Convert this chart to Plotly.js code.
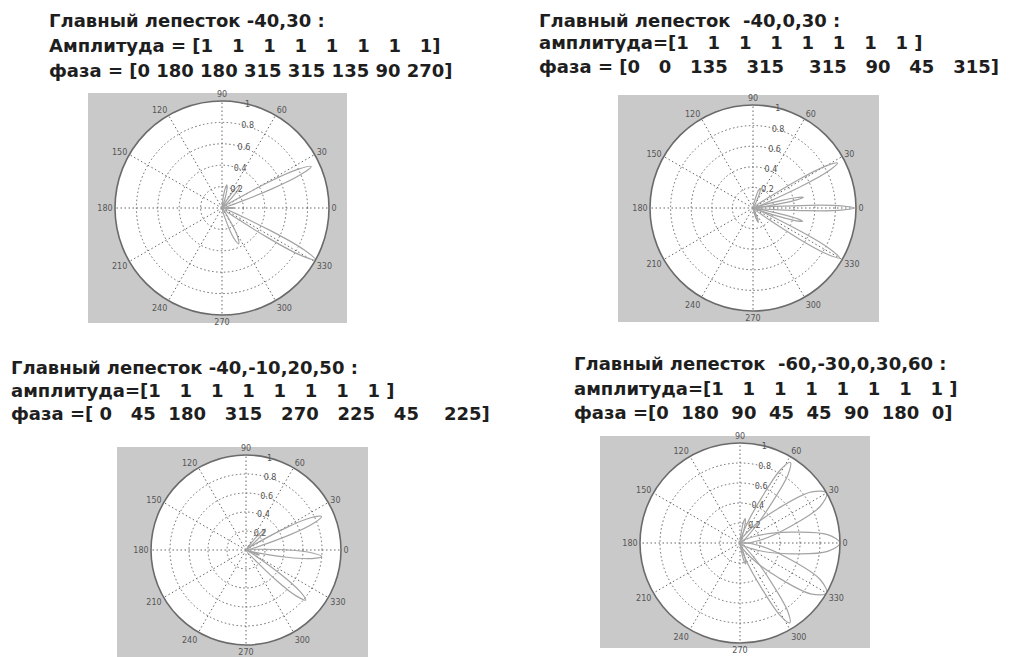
<!DOCTYPE html>
<html><head><meta charset="utf-8">
<script src="https://cdn.plot.ly/plotly-3.0.1.min.js"></script>
<style>html,body{margin:0;padding:0;background:#fff;}#chart{width:1024px;height:657px;}</style>
</head><body><div id="chart"></div>
<script>
// Titles (3 lines per panel)
const titles1 = ["Главный лепесток -40,30 :", "Амплитуда = [1   1   1   1   1   1   1   1]", "фаза = [0 180 180 315 315 135 90 270]"];
const titles2 = ["Главный лепесток  -40,0,30 :", "амплитуда=[1   1   1   1   1   1   1   1 ]", "фаза = [0   0   135   315    315   90   45   315]"];
const titles3 = ["Главный лепесток -40,-10,20,50 :", "амплитуда=[1   1   1   1   1   1   1   1 ]", "фаза =[ 0   45  180   315   270   225   45    225]"];
const titles4 = ["Главный лепесток  -60,-30,0,30,60 :", "амплитуда=[1   1   1   1   1   1   1   1 ]", "фаза =[0  180  90  45  45  90  180  0]"];

// Angular tick labels / radial ticks
const angTicks = [0,30,60,90,120,150,180,210,240,270,300,330];
const radTicks = [0.2,0.4,0.6,0.8,1];

// Pattern values (angle deg, normalized amplitude); null separates lobes
const theta1 = [-77,-71,-68,-65,-62,-59,-53,null,-37,-33,-31,-29,-27,-25,-21,null,-8,-4,-2,0,2,4,8,null,16,21,23,25,27,29,34,null,43,47,49.5,52,54.5,57,61,null,69,73,75.5,78,80.5,83,87];
const r1     = [0,0.2,0.32,0.37,0.32,0.2,0,null,0,0.5,0.86,1,0.86,0.5,0,null,0,0.07,0.1,0.12,0.1,0.07,0,null,0,0.5,0.8,0.92,0.8,0.5,0,null,0,0.15,0.24,0.27,0.24,0.15,0,null,0,0.12,0.19,0.22,0.19,0.12,0];

const theta2 = [-78,-74.4,-72.2,-70,-67.8,-65.6,-62,null,-37,-33.9,-31.9,-30,-28.1,-26.1,-23,null,-20,-17.8,-16.4,-15,-13.6,-12.2,-10,null,-5,-2.8,-1.4,0,1.4,2.8,5,null,7,9.2,10.6,12,13.4,14.8,17,null,21,24.1,26.1,28,29.9,31.9,35,null,60,64.5,67.3,70,72.7,75.5,80];
const r2     = [0,0.08,0.13,0.15,0.13,0.08,0,null,0,0.53,0.85,0.97,0.85,0.53,0,null,0,0.28,0.44,0.5,0.44,0.28,0,null,0,0.54,0.86,0.98,0.86,0.54,0,null,0,0.28,0.44,0.5,0.44,0.28,0,null,0,0.51,0.82,0.93,0.82,0.51,0,null,0,0.11,0.18,0.2,0.18,0.11,0];

const theta3 = [-49,-45,-42.4,-40,-37.6,-35,-31,null,-26,-23.3,-21.6,-20,-18.4,-16.7,-14,null,-14,-10,-7.4,-5,-2.6,0,4,null,15,19,21.6,24,26.4,29,33,null,39,42.6,44.8,47,49.2,51.4,55];
const r3     = [0,0.45,0.72,0.82,0.72,0.45,0,null,0,0.08,0.13,0.15,0.13,0.08,0,null,0,0.44,0.7,0.8,0.7,0.44,0,null,0,0.48,0.77,0.87,0.77,0.48,0,null,0,0.17,0.26,0.3,0.26,0.17,0];

const theta4 = [-83,-79.4,-77.2,-75,-72.8,-70.6,-67,null,-76,-70,-64.5,-61,-58,-55,-51.5,-46,-40,null,-62,-52,-42,-35.5,-30,-24.5,-18,-8,2,null,-32,-22,-12,-5.5,0,5.5,12,22,32,null,-2,8,18,24.5,30,35.5,42,52,62,null,40,46,51.5,55,58,61,64.5,70,76,null,70,73.6,75.8,78,80.2,82.4,86];
const r4     = [0,0.12,0.19,0.22,0.19,0.12,0,null,0,0.2,0.5,0.83,0.94,0.83,0.5,0.2,0,null,0,0.2,0.52,0.88,1,0.88,0.52,0.2,0,null,0,0.2,0.52,0.88,1,0.88,0.52,0.2,0,null,0,0.2,0.52,0.88,1,0.88,0.52,0.2,0,null,0,0.2,0.5,0.84,0.95,0.84,0.5,0.2,0,null,0,0.14,0.22,0.25,0.22,0.14,0];

const W = 1024, H = 657;
// panel geometry in pixels: polar center, radius, gray box, title origin
const panels = [
  {th: theta1, r: r1, titles: titles1, cx: 222, cy: 208, R: 107, box: [88, 93, 347, 323], tx: 47, ty: [20, 45, 71]},
  {th: theta2, r: r2, titles: titles2, cx: 753, cy: 208, R: 103, box: [618, 95, 879, 322], tx: 537, ty: [20, 43, 67]},
  {th: theta3, r: r3, titles: titles3, cx: 246, cy: 550, R: 95, box: [117, 447, 368, 657], tx: 9, ty: [367, 390, 413]},
  {th: theta4, r: r4, titles: titles4, cx: 740, cy: 543, R: 100, box: [600, 436, 870, 648], tx: 572, ty: [363, 388, 412]}
];

const nb = s => s.replace(/ /g, '\u00A0');
const data = [], shapes = [], annotations = [];
const layout = {
  width: W, height: H, margin: {l: 0, r: 0, t: 0, b: 0},
  paper_bgcolor: '#ffffff', showlegend: false
};

panels.forEach((p, i) => {
  const key = i === 0 ? 'polar' : 'polar' + (i + 1);
  data.push({
    type: 'scatterpolar', mode: 'lines', subplot: key,
    theta: p.th, r: p.r, connectgaps: false,
    line: {color: '#a4a4a4', width: 1.2, shape: 'spline', smoothing: 1},
    hoverinfo: 'skip'
  });
  layout[key] = {
    domain: {
      x: [(p.cx - p.R) / W, (p.cx + p.R) / W],
      y: [1 - (p.cy + p.R) / H, 1 - (p.cy - p.R) / H]
    },
    bgcolor: '#ffffff',
    radialaxis: {
      range: [0, 1], tickvals: radTicks, ticktext: radTicks.map(String),
      angle: 80, tickangle: 80, side: 'clockwise', showline: false, ticks: '',
      gridcolor: '#666666', griddash: '1.5px,2.5px', gridwidth: 1,
      tickfont: {family: 'DejaVu Sans', size: 8, color: '#555'}
    },
    angularaxis: {
      rotation: 0, direction: 'counterclockwise',
      tickvals: angTicks, ticktext: angTicks.map(String), ticks: '',
      showline: true, linecolor: '#6a6a6a', linewidth: 1.6,
      gridcolor: '#666666', griddash: '1.5px,2.5px', gridwidth: 1,
      tickfont: {family: 'DejaVu Sans', size: 8, color: '#555'}
    }
  };
  shapes.push({
    type: 'rect', xref: 'paper', yref: 'paper', layer: 'below',
    x0: p.box[0] / W, x1: p.box[2] / W, y0: 1 - p.box[3] / H, y1: 1 - p.box[1] / H,
    fillcolor: '#c9c9c9', line: {width: 0}
  });
  p.titles.forEach((t, j) => {
    annotations.push({
      xref: 'paper', yref: 'paper', x: p.tx / W, y: 1 - p.ty[j] / H,
      xanchor: 'left', yanchor: 'middle', showarrow: false, text: nb(t),
      font: {family: 'DejaVu Sans', size: 18, weight: 700, color: '#1e1e1e'}
    });
  });
});
layout.shapes = shapes;
layout.annotations = annotations;

Plotly.newPlot('chart', data, layout, {displayModeBar: false, staticPlot: true});
</script>
</body></html>
